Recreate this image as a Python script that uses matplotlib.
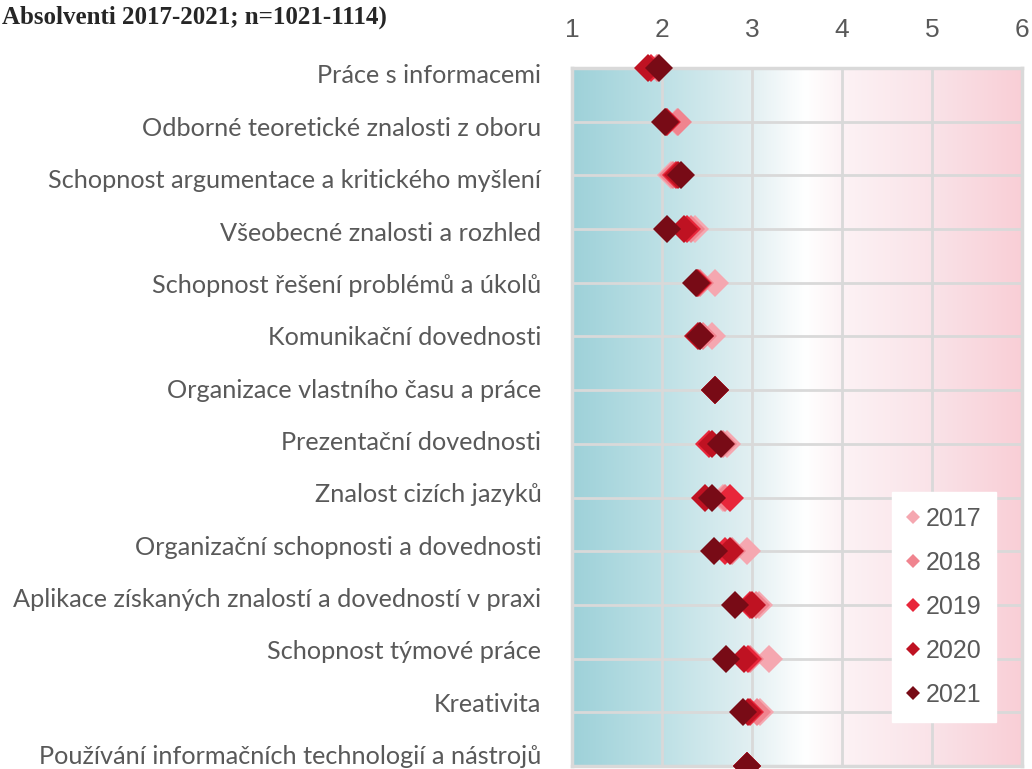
import numpy as np
import matplotlib
matplotlib.use('Agg')
from matplotlib import pyplot as plt
from matplotlib.colors import LinearSegmentedColormap

# categories (top to bottom)
categories = [
    'Práce s informacemi',
    'Odborné teoretické znalosti z oboru',
    'Schopnost argumentace a kritického myšlení',
    'Všeobecné znalosti a rozhled',
    'Schopnost řešení problémů a úkolů',
    'Komunikační dovednosti',
    'Organizace vlastního času a práce',
    'Prezentační dovednosti',
    'Znalost cizích jazyků',
    'Organizační schopnosti a dovednosti',
    'Aplikace získaných znalostí a dovedností v praxi',
    'Schopnost týmové práce',
    'Kreativita',
    'Používání informačních technologií a nástrojů',
]

years = ['2017', '2018', '2019', '2020', '2021']

# mean scores per year
v2017 = [1.96, 2.17, 2.10, 2.37, 2.59, 2.55, 2.59, 2.72, 2.68, 2.94, 3.08, 3.19, 3.09, 2.94]
v2018 = [1.94, 2.18, 2.12, 2.32, 2.42, 2.45, 2.59, 2.68, 2.70, 2.78, 3.04, 2.98, 3.05, 2.94]
v2019 = [1.88, 2.05, 2.16, 2.28, 2.40, 2.42, 2.59, 2.52, 2.76, 2.70, 2.98, 2.96, 2.98, 2.94]
v2020 = [1.84, 2.04, 2.18, 2.24, 2.39, 2.40, 2.59, 2.56, 2.48, 2.76, 3.00, 2.91, 2.95, 2.94]
v2021 = [1.97, 2.03, 2.21, 2.06, 2.38, 2.42, 2.59, 2.65, 2.56, 2.58, 2.81, 2.71, 2.90, 2.94]

series = [v2017, v2018, v2019, v2020, v2021]
colors = ['#f5a7b0', '#f0848f', '#e8263a', '#bf1222', '#780b16']

x_ticks = [1, 2, 3, 4, 5, 6]

GRAY = '#595959'
GRID = '#d9d9d9'

fig = plt.figure(figsize=(10.32, 7.69), dpi=100)
fig.patch.set_facecolor('white')
ax = fig.add_axes([0.5543, 0.0039, 0.4360, 0.9077])

n = len(categories)
ypos = np.arange(n)

# background gradient teal -> white -> pink
cmap = LinearSegmentedColormap.from_list('bg', [
    (0.00, (0.62, 0.82, 0.85)),
    (0.20, (0.74, 0.88, 0.90)),
    (0.40, (0.89, 0.94, 0.95)),
    (0.52, (1.00, 1.00, 1.00)),
    (0.60, (0.99, 0.95, 0.96)),
    (0.80, (0.98, 0.89, 0.91)),
    (1.00, (0.98, 0.81, 0.84)),
])
grad = np.linspace(0, 1, 512).reshape(1, -1)
ax.imshow(grad, cmap=cmap, aspect='auto', extent=[1, 6, n - 1, 0], zorder=0)

for vals, col, yr in zip(series, colors, years):
    ax.plot(vals, ypos, linestyle='none', marker='D', markersize=14,
            markeredgewidth=0, color=col, label=yr, zorder=3, clip_on=False)

ax.set_xlim(1, 6)
ax.set_ylim(n - 1, 0)
ax.set_xticks(x_ticks)

# gridlines on the category positions, labels drift slightly upward like the original
ax.set_yticks(ypos, minor=True)
ax.set_yticks(ypos + np.linspace(0.11, -0.21, n))
ax.set_yticklabels(categories)

ax.xaxis.tick_top()
ax.tick_params(axis='x', length=0, pad=19, labelsize=19, labelcolor=GRAY)
ax.tick_params(axis='y', which='both', length=0, pad=22, labelcolor=GRAY)
for lbl in ax.get_xticklabels():
    lbl.set_fontfamily('Liberation Sans')
for lbl in ax.get_yticklabels():
    lbl.set_fontfamily('Lato')
    lbl.set_fontsize(18.2)

ax.xaxis.grid(True, color=GRID, linewidth=2, zorder=1)
ax.yaxis.grid(True, which='minor', color=GRID, linewidth=2, zorder=1)
ax.yaxis.grid(False, which='major')
ax.set_axisbelow(False)
for sp in ax.spines.values():
    sp.set_color(GRID)
    sp.set_linewidth(2.5)
    sp.set_zorder(2)

leg = ax.legend(loc='lower right', bbox_to_anchor=(0.943, 0.063), borderaxespad=0,
                frameon=True, fancybox=False, edgecolor='white', framealpha=1,
                markerscale=0.5, handlelength=0.5, handletextpad=0.25,
                labelspacing=0.8, borderpad=0.6,
                prop={'family': 'Liberation Sans', 'size': 18})
for t in leg.get_texts():
    t.set_color(GRAY)

fig.text(0.002, 0.977, 'Absolventi 2017-2021; n=1021-1114)', ha='left', va='center',
         fontsize=18, fontweight='bold', family='Liberation Serif', color='#262626')

plt.savefig('out.png', dpi=100, facecolor='white')
